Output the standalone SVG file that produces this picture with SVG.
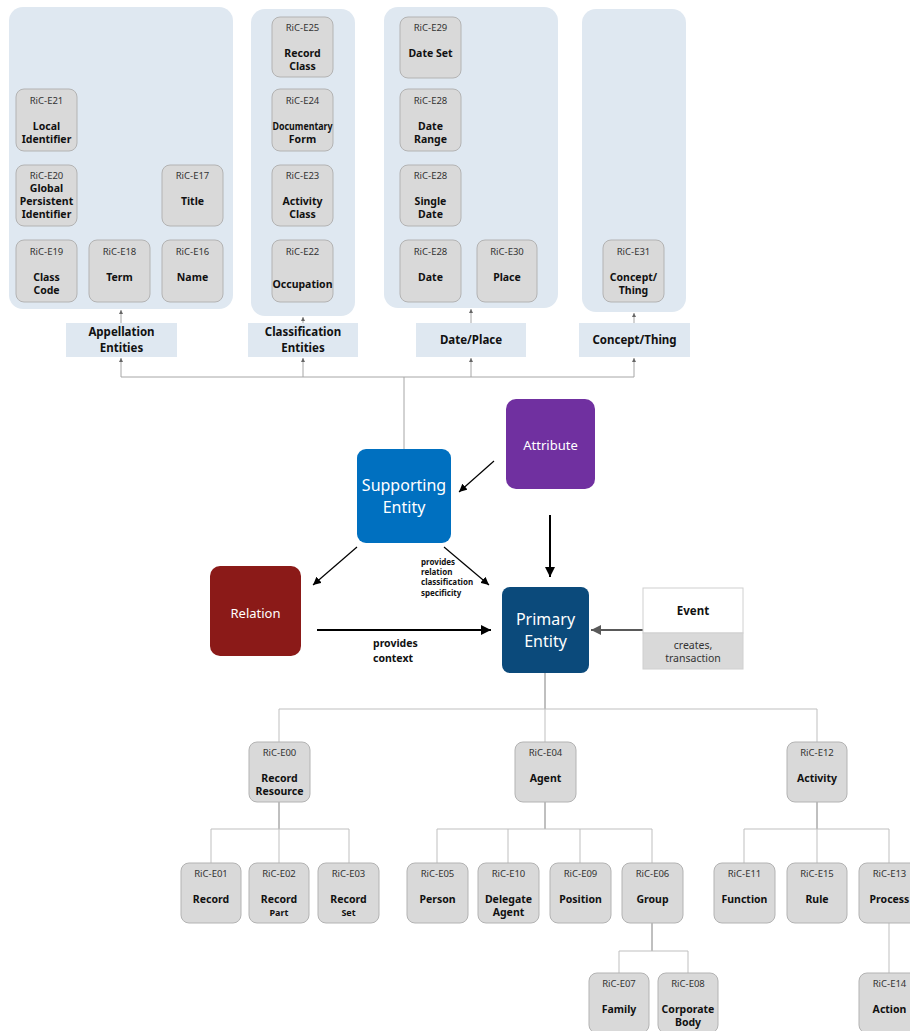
<svg xmlns="http://www.w3.org/2000/svg" width="910" height="1031" viewBox="0 0 910 1031">
<defs>
<style>
.cont{fill:#dfe8f1;}
.cat{fill:#dfe8f1;}
.nd{fill:#d9d9d9;stroke:#b3b3b3;stroke-width:1;}
.id{font-family:"Noto Sans","Open Sans",sans-serif;font-size:9.5px;fill:#333;text-anchor:middle;}
.nm{font-family:"Noto Sans","Open Sans",sans-serif;font-size:10.5px;font-weight:bold;fill:#111;text-anchor:middle;}
.sm{font-family:"Noto Sans","Open Sans",sans-serif;font-size:9px;font-weight:bold;fill:#111;text-anchor:middle;}
.ct{font-family:"Noto Sans","Open Sans",sans-serif;font-size:11.5px;font-weight:bold;fill:#111;text-anchor:middle;}
.big{font-family:"Noto Sans","Open Sans",sans-serif;font-size:16px;fill:#fff;text-anchor:middle;}
.mid{font-family:"Noto Sans","Open Sans",sans-serif;font-size:13px;fill:#fff;text-anchor:middle;}
.lbl{font-family:"Noto Sans","Open Sans",sans-serif;font-size:10.5px;font-weight:bold;fill:#111;}
.lbs{font-family:"Noto Sans","Open Sans",sans-serif;font-size:8px;font-weight:bold;fill:#111;}
.ln{fill:none;stroke:#a6a6a6;stroke-width:1;}
.lnd{fill:none;stroke:#808080;stroke-width:1;}
.lnl{fill:none;stroke:#bfbfbf;stroke-width:1;}
</style>
<marker id="ah" viewBox="0 0 10 10" refX="10" refY="5" markerWidth="8" markerHeight="8" markerUnits="userSpaceOnUse" orient="auto"><path d="M0,0 L10,5 L0,10 z" fill="#000"/></marker>
<marker id="ahb" viewBox="0 0 10 10" refX="10" refY="5" markerWidth="10" markerHeight="10" markerUnits="userSpaceOnUse" orient="auto"><path d="M0,0 L10,5 L0,10 z" fill="#000"/></marker>
<marker id="ahg" viewBox="0 0 10 10" refX="10" refY="5" markerWidth="10" markerHeight="10" markerUnits="userSpaceOnUse" orient="auto"><path d="M0,0 L10,5 L0,10 z" fill="#595959"/></marker>
<marker id="ahs" viewBox="0 0 10 10" refX="10" refY="5" markerWidth="4" markerHeight="4" markerUnits="userSpaceOnUse" orient="auto"><path d="M0,0 L10,5 L0,10 z" fill="#666"/></marker>
</defs>
<rect width="910" height="1031" fill="#fff"/>

<!-- containers -->
<g id="containers">
<rect class="cont" x="9" y="7" width="224" height="302" rx="14"/>
<rect class="cont" x="251" y="9" width="104" height="307" rx="14"/>
<rect class="cont" x="384" y="7" width="174" height="301" rx="14"/>
<rect class="cont" x="582" y="9" width="104" height="303" rx="14"/>
</g>

<!-- connectors -->
<g id="connectors">
<path class="ln" d="M121,323 V310" marker-end="url(#ahs)"/>
<path class="ln" d="M303,323 V317" marker-end="url(#ahs)"/>
<path class="ln" d="M471,323 V309" marker-end="url(#ahs)"/>
<path class="ln" d="M634,323 V313" marker-end="url(#ahs)"/>
<path class="ln" d="M121,377 H634"/>
<path class="ln" d="M121,377 V358" marker-end="url(#ahs)"/>
<path class="ln" d="M303,377 V358" marker-end="url(#ahs)"/>
<path class="ln" d="M471,377 V358" marker-end="url(#ahs)"/>
<path class="ln" d="M634,377 V358" marker-end="url(#ahs)"/>
<path class="ln" d="M404,377 V449"/>

<path d="M494,461 L459,492" stroke="#000" stroke-width="1.2" fill="none" marker-end="url(#ah)"/>
<path d="M357,547 L313,585" stroke="#000" stroke-width="1.2" fill="none" marker-end="url(#ah)"/>
<path d="M444,547 L489,585" stroke="#000" stroke-width="1.2" fill="none" marker-end="url(#ah)"/>
<path d="M550,515 V577" stroke="#000" stroke-width="2" fill="none" marker-end="url(#ahb)"/>
<path d="M317,630 H491" stroke="#000" stroke-width="2" fill="none" marker-end="url(#ahb)"/>
<path d="M643,630 H591" stroke="#595959" stroke-width="2" fill="none" marker-end="url(#ahg)"/>

<path class="lnd" d="M545,673 V709"/>
<path class="lnl" d="M279,709 H817"/>
<path class="lnl" d="M279,709 V742"/>
<path class="lnl" d="M545,709 V742"/>
<path class="lnl" d="M817,709 V742"/>

<path class="lnd" d="M279,802 V829"/>
<path class="lnl" d="M211,829 H349 M211,829 V863 M279,829 V863 M349,829 V863"/>
<path class="lnd" d="M545,802 V829"/>
<path class="lnl" d="M437,829 H652 M437,829 V863 M508,829 V863 M580,829 V863 M652,829 V863"/>
<path class="lnd" d="M817,802 V829"/>
<path class="lnl" d="M744,829 H889 M744,829 V863 M817,829 V863 M889,829 V863"/>
<path class="lnd" d="M652,923 V951"/>
<path class="lnl" d="M619,951 H688 M619,951 V973 M688,951 V973"/>
<path class="lnl" d="M889,923 V973"/>
</g>

<!-- category labels -->
<g id="cat-appellation"><rect class="cat" x="66" y="323" width="111" height="34"/><text class="ct" x="121.5" y="336">Appellation</text><text class="ct" x="121.5" y="352">Entities</text></g>
<g id="cat-classification"><rect class="cat" x="248" y="323" width="110" height="34"/><text class="ct" x="303" y="336">Classification</text><text class="ct" x="303" y="352">Entities</text></g>
<g id="cat-dateplace"><rect class="cat" x="416" y="323" width="110" height="34"/><text class="ct" x="471" y="344">Date/Place</text></g>
<g id="cat-concept"><rect class="cat" x="579" y="323" width="111" height="34"/><text class="ct" x="634.5" y="344">Concept/Thing</text></g>

<!-- appellation nodes -->
<g id="E21"><rect class="nd" x="16" y="89" width="61" height="62" rx="8"/><text class="id" x="46.5" y="104">RiC-E21</text><text class="nm" x="46.5" y="130">Local</text><text class="nm" x="46.5" y="143">Identifier</text></g>
<g id="E20"><rect class="nd" x="16" y="165" width="61" height="61" rx="8"/><text class="id" x="46.5" y="179">RiC-E20</text><text class="nm" x="46.5" y="192">Global</text><text class="nm" x="46.5" y="205">Persistent</text><text class="nm" x="46.5" y="218">Identifier</text></g>
<g id="E19"><rect class="nd" x="16" y="240" width="61" height="62" rx="8"/><text class="id" x="46.5" y="255">RiC-E19</text><text class="nm" x="46.5" y="281">Class</text><text class="nm" x="46.5" y="294">Code</text></g>
<g id="E18"><rect class="nd" x="89" y="240" width="61" height="62" rx="8"/><text class="id" x="119.5" y="255">RiC-E18</text><text class="nm" x="119.5" y="281">Term</text></g>
<g id="E17"><rect class="nd" x="162" y="165" width="61" height="61" rx="8"/><text class="id" x="192.5" y="179">RiC-E17</text><text class="nm" x="192.5" y="205">Title</text></g>
<g id="E16"><rect class="nd" x="162" y="240" width="61" height="62" rx="8"/><text class="id" x="192.5" y="255">RiC-E16</text><text class="nm" x="192.5" y="281">Name</text></g>

<!-- classification nodes -->
<g id="E25"><rect class="nd" x="272" y="17" width="61" height="60" rx="8"/><text class="id" x="302.5" y="31">RiC-E25</text><text class="nm" x="302.5" y="57">Record</text><text class="nm" x="302.5" y="70">Class</text></g>
<g id="E24"><rect class="nd" x="272" y="89" width="61" height="62" rx="8"/><text class="id" x="302.5" y="104">RiC-E24</text><text class="nm" x="302.5" y="130" textLength="60" lengthAdjust="spacingAndGlyphs">Documentary</text><text class="nm" x="302.5" y="143">Form</text></g>
<g id="E23"><rect class="nd" x="272" y="165" width="61" height="61" rx="8"/><text class="id" x="302.5" y="179">RiC-E23</text><text class="nm" x="302.5" y="205">Activity</text><text class="nm" x="302.5" y="218">Class</text></g>
<g id="E22"><rect class="nd" x="272" y="240" width="61" height="62" rx="8"/><text class="id" x="302.5" y="255">RiC-E22</text><text class="nm" x="302.5" y="288">Occupation</text></g>

<!-- date/place nodes -->
<g id="E29"><rect class="nd" x="400" y="17" width="61" height="61" rx="8"/><text class="id" x="430.5" y="31">RiC-E29</text><text class="nm" x="430.5" y="57">Date Set</text></g>
<g id="E28a"><rect class="nd" x="400" y="89" width="61" height="62" rx="8"/><text class="id" x="430.5" y="104">RiC-E28</text><text class="nm" x="430.5" y="130">Date</text><text class="nm" x="430.5" y="143">Range</text></g>
<g id="E28b"><rect class="nd" x="400" y="165" width="61" height="61" rx="8"/><text class="id" x="430.5" y="179">RiC-E28</text><text class="nm" x="430.5" y="205">Single</text><text class="nm" x="430.5" y="218">Date</text></g>
<g id="E28c"><rect class="nd" x="400" y="240" width="61" height="62" rx="8"/><text class="id" x="430.5" y="255">RiC-E28</text><text class="nm" x="430.5" y="281">Date</text></g>
<g id="E30"><rect class="nd" x="477" y="240" width="60" height="62" rx="8"/><text class="id" x="507" y="255">RiC-E30</text><text class="nm" x="507" y="281">Place</text></g>

<!-- concept -->
<g id="E31"><rect class="nd" x="603" y="240" width="61" height="62" rx="8"/><text class="id" x="633.5" y="255">RiC-E31</text><text class="nm" x="633.5" y="281">Concept/</text><text class="nm" x="633.5" y="294">Thing</text></g>

<!-- main entities -->
<g id="supporting"><rect x="357" y="449" width="94" height="94" rx="9" fill="#0070c0"/><text class="big" x="404" y="491">Supporting</text><text class="big" x="404" y="513">Entity</text></g>
<g id="attribute"><rect x="506" y="399" width="89" height="90" rx="10" fill="#7030a0"/><text class="mid" x="550.5" y="450">Attribute</text></g>
<g id="relation"><rect x="210" y="566" width="91" height="90" rx="10" fill="#8b1a18"/><text class="mid" x="255.5" y="618">Relation</text></g>
<g id="primary"><rect x="502" y="587" width="87" height="86" rx="8" fill="#0b4a7b"/><text class="big" x="545.5" y="625">Primary</text><text class="big" x="545.5" y="647">Entity</text></g>
<g id="event"><rect x="643" y="588" width="100" height="45" fill="#fff" stroke="#d0d0d0"/><rect x="643" y="633" width="100" height="36" fill="#d9d9d9" stroke="#d0d0d0"/><text class="ct" x="693" y="615">Event</text><text class="id" style="font-size:10.5px" x="693" y="649">creates,</text><text class="id" style="font-size:10.5px" x="693" y="662">transaction</text></g>

<g id="labels">
<text class="lbs" x="421" y="565">provides</text>
<text class="lbs" x="421" y="575">relation</text>
<text class="lbs" x="421" y="585">classification</text>
<text class="lbs" x="421" y="596">specificity</text>
<text class="lbl" x="373" y="647">provides</text>
<text class="lbl" x="373" y="662">context</text>
</g>

<!-- bottom tree -->
<g id="E00"><rect class="nd" x="249" y="742" width="61" height="60" rx="8"/><text class="id" x="279.5" y="756">RiC-E00</text><text class="nm" x="279.5" y="782">Record</text><text class="nm" x="279.5" y="795">Resource</text></g>
<g id="E04"><rect class="nd" x="515" y="742" width="61" height="60" rx="8"/><text class="id" x="545.5" y="756">RiC-E04</text><text class="nm" x="545.5" y="782">Agent</text></g>
<g id="E12"><rect class="nd" x="787" y="742" width="60" height="60" rx="8"/><text class="id" x="817" y="756">RiC-E12</text><text class="nm" x="817" y="782">Activity</text></g>

<g id="E01"><rect class="nd" x="181" y="863" width="60" height="60" rx="8"/><text class="id" x="211" y="877">RiC-E01</text><text class="nm" x="211" y="903">Record</text></g>
<g id="E02"><rect class="nd" x="249" y="863" width="60" height="60" rx="8"/><text class="id" x="279" y="877">RiC-E02</text><text class="nm" x="279" y="903">Record</text><text class="sm" x="279" y="916">Part</text></g>
<g id="E03"><rect class="nd" x="318" y="863" width="61" height="60" rx="8"/><text class="id" x="348.5" y="877">RiC-E03</text><text class="nm" x="348.5" y="903">Record</text><text class="sm" x="348.5" y="916">Set</text></g>

<g id="E05"><rect class="nd" x="407" y="863" width="61" height="60" rx="8"/><text class="id" x="437.5" y="877">RiC-E05</text><text class="nm" x="437.5" y="903">Person</text></g>
<g id="E10"><rect class="nd" x="478" y="863" width="61" height="60" rx="8"/><text class="id" x="508.5" y="877">RiC-E10</text><text class="nm" x="508.5" y="903">Delegate</text><text class="nm" x="508.5" y="916">Agent</text></g>
<g id="E09"><rect class="nd" x="550" y="863" width="61" height="60" rx="8"/><text class="id" x="580.5" y="877">RiC-E09</text><text class="nm" x="580.5" y="903">Position</text></g>
<g id="E06"><rect class="nd" x="622" y="863" width="61" height="60" rx="8"/><text class="id" x="652.5" y="877">RiC-E06</text><text class="nm" x="652.5" y="903">Group</text></g>
<g id="E07"><rect class="nd" x="589" y="973" width="60" height="60" rx="8"/><text class="id" x="619" y="987">RiC-E07</text><text class="nm" x="619" y="1013">Family</text></g>
<g id="E08"><rect class="nd" x="658" y="973" width="60" height="60" rx="8"/><text class="id" x="688" y="987">RiC-E08</text><text class="nm" x="688" y="1013">Corporate</text><text class="nm" x="688" y="1026">Body</text></g>

<g id="E11"><rect class="nd" x="714" y="863" width="61" height="60" rx="8"/><text class="id" x="744.5" y="877">RiC-E11</text><text class="nm" x="744.5" y="903">Function</text></g>
<g id="E15"><rect class="nd" x="787" y="863" width="60" height="60" rx="8"/><text class="id" x="817" y="877">RiC-E15</text><text class="nm" x="817" y="903">Rule</text></g>
<g id="E13"><rect class="nd" x="859" y="863" width="61" height="60" rx="8"/><text class="id" x="889.5" y="877">RiC-E13</text><text class="nm" x="889.5" y="903">Process</text></g>
<g id="E14"><rect class="nd" x="859" y="973" width="61" height="60" rx="8"/><text class="id" x="889.5" y="987">RiC-E14</text><text class="nm" x="889.5" y="1013">Action</text></g>
</svg>
